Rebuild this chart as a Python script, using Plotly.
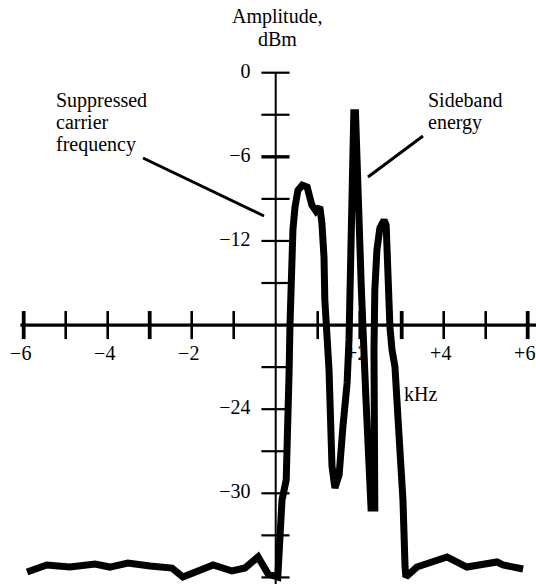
import plotly.graph_objects as go

# ---------------- data ----------------
freq_khz = [-5.92, -5.45, -4.90, -4.30, -3.95, -3.52, -2.99, -2.47, -2.21, -1.49,
            -1.04, -0.73, -0.42, -0.18, 0.05, 0.10, 0.15, 0.25, 0.29, 0.32,
            0.34, 0.36, 0.39, 0.41, 0.46, 0.53, 0.63, 0.75, 0.86, 0.96,
            1.05, 1.10, 1.15, 1.17, 1.27, 1.34, 1.41, 1.51, 1.60, 1.70,
            1.745, 1.77, 1.80, 1.86, 1.90, 1.96, 2.04, 2.15, 2.22, 2.27,
            2.36, 2.34, 2.34, 2.36, 2.41, 2.48, 2.58, 2.63, 2.65, 2.67,
            2.72, 2.77, 2.84, 2.91, 3.03, 3.08, 3.10, 3.36, 4.08, 4.55,
            5.27, 5.41, 5.89]
amp_dbm = [-35.61, -35.11, -35.26, -35.04, -35.26, -34.97, -35.19, -35.33, -35.97, -35.11,
           -35.54, -35.33, -34.54, -35.76, -35.97, -32.84, -30.48, -29.05, -25.70, -21.21,
           -18.00, -15.51, -12.65, -11.22, -9.58, -8.38, -8.02, -8.16, -9.44, -9.87,
           -9.58, -10.72, -13.15, -16.22, -21.21, -28.05, -29.62, -28.69, -25.27, -22.13,
           -19.06, -14.78, -9.09, -2.85, -2.85, -9.09, -15.50, -23.35, -28.34, -31.05,
           -31.05, -25.70, -19.78, -15.50, -12.65, -11.08, -10.51, -10.87, -13.36, -16.22,
           -18.14, -19.78, -20.99, -24.56, -30.48, -35.26, -35.97, -35.26, -34.54, -35.26,
           -34.90, -35.11, -35.40]

x_ticks = [-6, -5, -4, -3, -2, -1, 1, 2, 3, 4, 5, 6]
x_label_vals = [-6, -4, -2, 2, 4, 6]
x_label_text = ["\u22126", "\u22124", "\u22122", "+2", "+4", "+6"]
y_ticks = [0, -3, -6, -9, -12, -15, -21, -24, -27, -30, -33, -36]
y_label_vals = [0, -6, -12, -24, -30, -36]
y_label_text = ["0", "\u22126", "\u221212", "\u221224", "\u221230", "\u221236"]

# ---------------- geometry ----------------
W, H = 536, 584
X0_PX, PX_PER_KHZ = 275.7, 42.0
Y0_PX, PX_PER_DB = 72.7, 14.02
AXIS_Y = -18          # horizontal axis crosses at -18 dBm
x_range = [(0 - X0_PX) / PX_PER_KHZ, (W - X0_PX) / PX_PER_KHZ]
y_range = [-(H - Y0_PX) / PX_PER_DB, Y0_PX / PX_PER_DB]

FONT = "Liberation Serif, Times New Roman, serif"

fig = go.Figure()

shapes = []
# horizontal axis
shapes.append(dict(type="line", xref="x", yref="y", x0=-6.08, x1=6.3, y0=AXIS_Y, y1=AXIS_Y,
                   line=dict(color="black", width=3.2), layer="below"))
# vertical axis
shapes.append(dict(type="line", xref="x", yref="y", x0=0, x1=0, y0=0, y1=-37.5,
                   line=dict(color="black", width=2), layer="below"))
# x ticks (cross the axis)
for t in x_ticks:
    w = 3.8 if abs(t) in (3, 6) else 2.6
    shapes.append(dict(type="line", xref="x", yref="y", x0=t, x1=t,
                       y0=AXIS_Y - 1.0, y1=AXIS_Y + 1.0,
                       line=dict(color="black", width=w), layer="below"))
# y ticks
for t in y_ticks:
    w = 3.4 if t == -6 else 2.2
    shapes.append(dict(type="line", xref="x", yref="y", x0=-0.34, x1=0.33,
                       y0=t, y1=t, line=dict(color="black", width=w), layer="below"))

# pointer lines (pixel positions -> paper)
def P(px, py):
    return px / W, 1 - py / H

for (a, b) in [((143, 158), (264, 216)), ((423, 136), (368, 177))]:
    x0, y0 = P(*a)
    x1, y1 = P(*b)
    shapes.append(dict(type="line", xref="paper", yref="paper", x0=x0, y0=y0, x1=x1, y1=y1,
                       line=dict(color="black", width=3)))

# tick labels as text traces (drawn under the curve)
fig.add_trace(go.Scatter(
    x=[v - 0.07 for v in x_label_vals], y=[-20.14] * len(x_label_vals),
    mode="text", text=x_label_text, textposition="middle center",
    textfont=dict(family=FONT, size=20, color="black"), hoverinfo="skip", cliponaxis=False))
fig.add_trace(go.Scatter(
    x=[-0.6] * len(y_label_vals),
    y=[v if v != -36 else -36.5 for v in y_label_vals],
    mode="text", text=y_label_text, textposition="middle left",
    textfont=dict(family=FONT, size=20, color="black"), hoverinfo="skip", cliponaxis=False))

# the spectrum curve
fig.add_trace(go.Scatter(
    x=freq_khz, y=amp_dbm, mode="lines",
    line=dict(color="black", width=7), hoverinfo="skip", cliponaxis=False))

annotations = []
def txt(text, px, py, xanchor="left"):
    x, y = P(px, py)
    annotations.append(dict(text=text, x=x, y=y, xref="paper", yref="paper",
                            xanchor=xanchor, yanchor="middle", showarrow=False,
                            font=dict(family=FONT, size=20, color="black")))

txt("Amplitude,", 277, 17, "center")
txt("dBm", 277, 39, "center")
txt("Suppressed", 54, 100)
txt("carrier", 54, 122)
txt("frequency", 54, 144)
txt("Sideband", 426, 100)
txt("energy", 426, 122)
txt("kHz", 402, 394)

fig.update_layout(
    width=W, height=H,
    margin=dict(l=0, r=0, t=0, b=0),
    paper_bgcolor="white", plot_bgcolor="white",
    showlegend=False,
    hovermode=False,
    xaxis=dict(range=x_range, visible=False, fixedrange=True),
    yaxis=dict(range=y_range, visible=False, fixedrange=True),
    shapes=shapes, annotations=annotations,
)

fig.write_html(
    "out.html",
    config={"displayModeBar": False, "staticPlot": True},
    post_script="document.body.style.margin='0';document.body.style.overflow='hidden';",
)
